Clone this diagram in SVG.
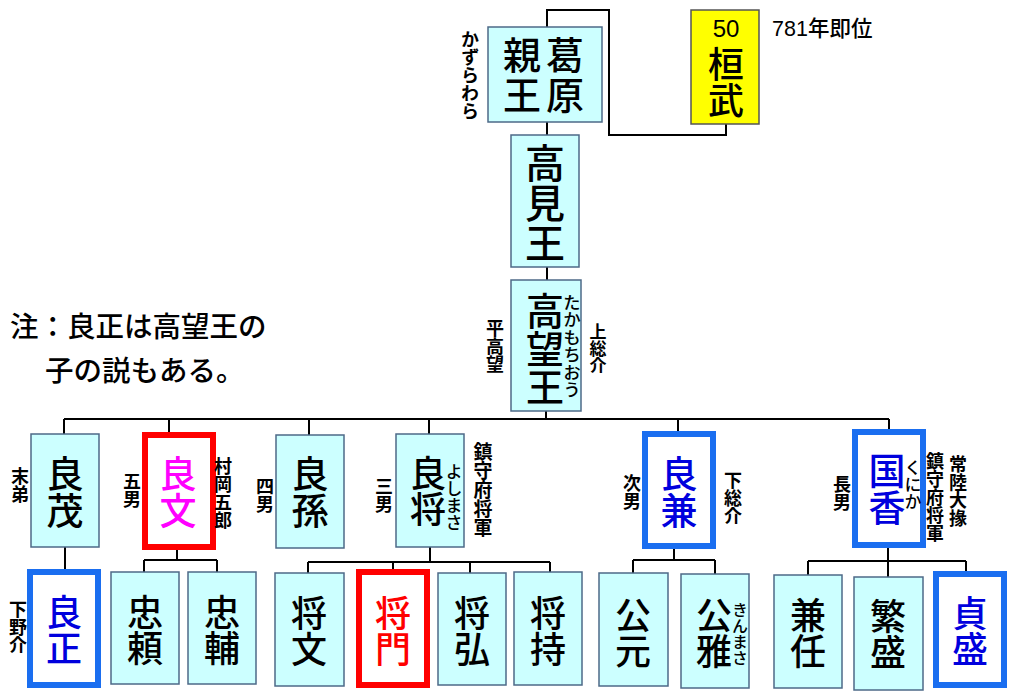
<svg xmlns="http://www.w3.org/2000/svg" width="1024" height="699" viewBox="0 0 1024 699">
<style>
text{font-family:"Noto Sans CJK JP","Noto Sans CJK SC",sans-serif;fill:#000;font-weight:500}
.v{writing-mode:vertical-rl;text-anchor:middle}
.n{font-size:38px}
.s{font-size:18px;font-weight:bold}
.box{fill:#ccffff;stroke:#4d6a88;stroke-width:1.5}
.red{fill:#fff;stroke:#ff0000;stroke-width:6}
.blue{fill:#fff;stroke:#1a6ef0;stroke-width:6}
.conn{fill:none;stroke:#000;stroke-width:2}
.bt{fill:#0000dd}
</style>
<rect width="1024" height="699" fill="#fff"/>
<g id="connectors" class="conn">
<path d="M547,27V10H609V135H726V124"/>
<path d="M547,122V135M547,267V280M546,411V419M64,419H889"/>
<path d="M64,419V434M169,419V432M309,419V435M429,419V434M678,419V431M889,419V429"/>
<path d="M65,547V569"/>
<path d="M177,550V560M144,560H217M144,560V572M217,560V572"/>
<path d="M430,547V562M308,562H550M308,562V573M393,562V569M470,562V573M550,562V572"/>
<path d="M674,549V560M633,560H715M633,560V573M715,560V574"/>
<path d="M888,548V561M808,561H966M808,561V575M888,561V577M966,561V571"/>
</g>
<g id="kuzuhara">
<rect class="box" x="488" y="27" width="114" height="95"/>
<text class="v" x="565" y="76" font-size="38" letter-spacing="2">葛原</text>
<text class="v" x="522" y="76" font-size="38" letter-spacing="2">親王</text>
<text class="v s" x="470" y="75" font-size="17">かずらわら</text>
</g>
<g id="kanmu">
<rect x="691" y="10" width="68" height="114" fill="#ffff00" stroke="#555" stroke-width="1.5"/>
<text x="726" y="37" font-size="24" text-anchor="middle" style="font-family:'Liberation Sans',sans-serif;font-weight:normal">50</text>
<text class="v" x="726" y="82" font-size="36">桓武</text>
<text x="772" y="36" font-size="21.5"><tspan style="font-family:'Liberation Sans',sans-serif;font-weight:normal">781</tspan>年即位</text>
</g>
<g id="takami">
<rect class="box" x="511" y="135" width="68" height="132"/>
<text class="v" x="545" y="203" font-size="40">高見王</text>
</g>
<g id="takamochi">
<rect class="box" x="511" y="280" width="70" height="131"/>
<text class="v n" x="545" y="349">高望王</text>
<text class="v" x="572" y="346" font-size="17.5">たかもちおう</text>
<text class="v s" x="495" y="346">平高望</text>
<text class="v s" x="598" y="349" style="font-size:17px">上総介</text>
</g>
<g id="note">
<text x="10" y="337" font-size="28.5">注：良正は高望王の</text>
<text x="45" y="381" font-size="28.5">子の説もある。</text>
</g>
<g id="yoshimochi">
<rect class="box" x="31" y="434" width="68" height="113"/>
<text class="v" x="65" y="492" font-size="37">良茂</text>
<text class="v s" x="20" y="485">末弟</text>
</g>
<g id="yoshifumi">
<rect class="red" x="145" y="435" width="68" height="112"/>
<text class="v" x="178" y="492" font-size="37" style="fill:#ff00ff">良文</text>
<text class="v s" x="132" y="490">五男</text>
<text class="v s" x="223" y="493">村岡五郎</text>
</g>
<g id="yoshihiko">
<rect class="box" x="276" y="435" width="68" height="113"/>
<text class="v" x="310" y="492" font-size="37">良孫</text>
<text class="v s" x="265" y="495">四男</text>
</g>
<g id="yoshimasa">
<rect class="box" x="396" y="434" width="68" height="113"/>
<text class="v" x="428" y="491" font-size="36">良将</text>
<text class="v" x="454" y="497" font-size="17">よしまさ</text>
<text class="v s" x="384" y="495">三男</text>
<text class="v s" x="483" y="490" style="font-size:19px">鎮守府将軍</text>
</g>
<g id="yoshikane">
<rect class="blue" x="645" y="434" width="68" height="112"/>
<text class="v bt" x="679" y="492" font-size="37">良兼</text>
<text class="v s" x="632" y="492">次男</text>
<text class="v s" x="733" y="498">下総介</text>
</g>
<g id="kunika">
<rect class="blue" x="855" y="432" width="68" height="113"/>
<text class="v bt" x="887" y="489" font-size="37">国香</text>
<text class="v" x="913" y="485" font-size="17">くにか</text>
<text class="v s" x="842" y="493">長男</text>
<text class="v s" x="935" y="497">鎮守府将軍</text>
<text class="v s" x="958" y="491">常陸大掾</text>
</g>
<g id="yoshimasa2">
<rect class="blue" x="30" y="572" width="68" height="113"/>
<text class="v bt" x="64" y="630" font-size="36">良正</text>
<text class="v s" x="18" y="627">下野介</text>
</g>
<g id="tadayori">
<rect class="box" x="111" y="572" width="68" height="112"/>
<text class="v" x="145" y="630" font-size="36">忠頼</text>
</g>
<g id="tadasuke">
<rect class="box" x="188" y="572" width="68" height="112"/>
<text class="v" x="222" y="630" font-size="36">忠輔</text>
</g>
<g id="masafumi">
<rect class="box" x="275" y="573" width="69" height="113"/>
<text class="v" x="309" y="631" font-size="36">将文</text>
</g>
<g id="masakado">
<rect class="red" x="359" y="572" width="68" height="113"/>
<text class="v" x="393" y="631" font-size="36" style="fill:#ff0000">将門</text>
</g>
<g id="masahiro">
<rect class="box" x="438" y="573" width="68" height="112"/>
<text class="v" x="472" y="631" font-size="36">将弘</text>
</g>
<g id="masamochi">
<rect class="box" x="514" y="572" width="68" height="113"/>
<text class="v" x="548" y="631" font-size="36">将持</text>
</g>
<g id="kimimoto">
<rect class="box" x="599" y="573" width="69" height="113"/>
<text class="v" x="633" y="633" font-size="36">公元</text>
</g>
<g id="kimimasa">
<rect class="box" x="681" y="574" width="68" height="114"/>
<text class="v" x="714" y="633" font-size="36">公雅</text>
<text class="v" x="740" y="634" font-size="16">きんまさ</text>
</g>
<g id="kanetou">
<rect class="box" x="774" y="575" width="68" height="113"/>
<text class="v" x="808" y="633" font-size="36">兼任</text>
</g>
<g id="shigemori">
<rect class="box" x="854" y="577" width="69" height="113"/>
<text class="v" x="888" y="634" font-size="36">繁盛</text>
</g>
<g id="sadamori">
<rect class="blue" x="936" y="574" width="68" height="111"/>
<text class="v bt" x="970" y="631" font-size="36">貞盛</text>
</g>
</svg>
